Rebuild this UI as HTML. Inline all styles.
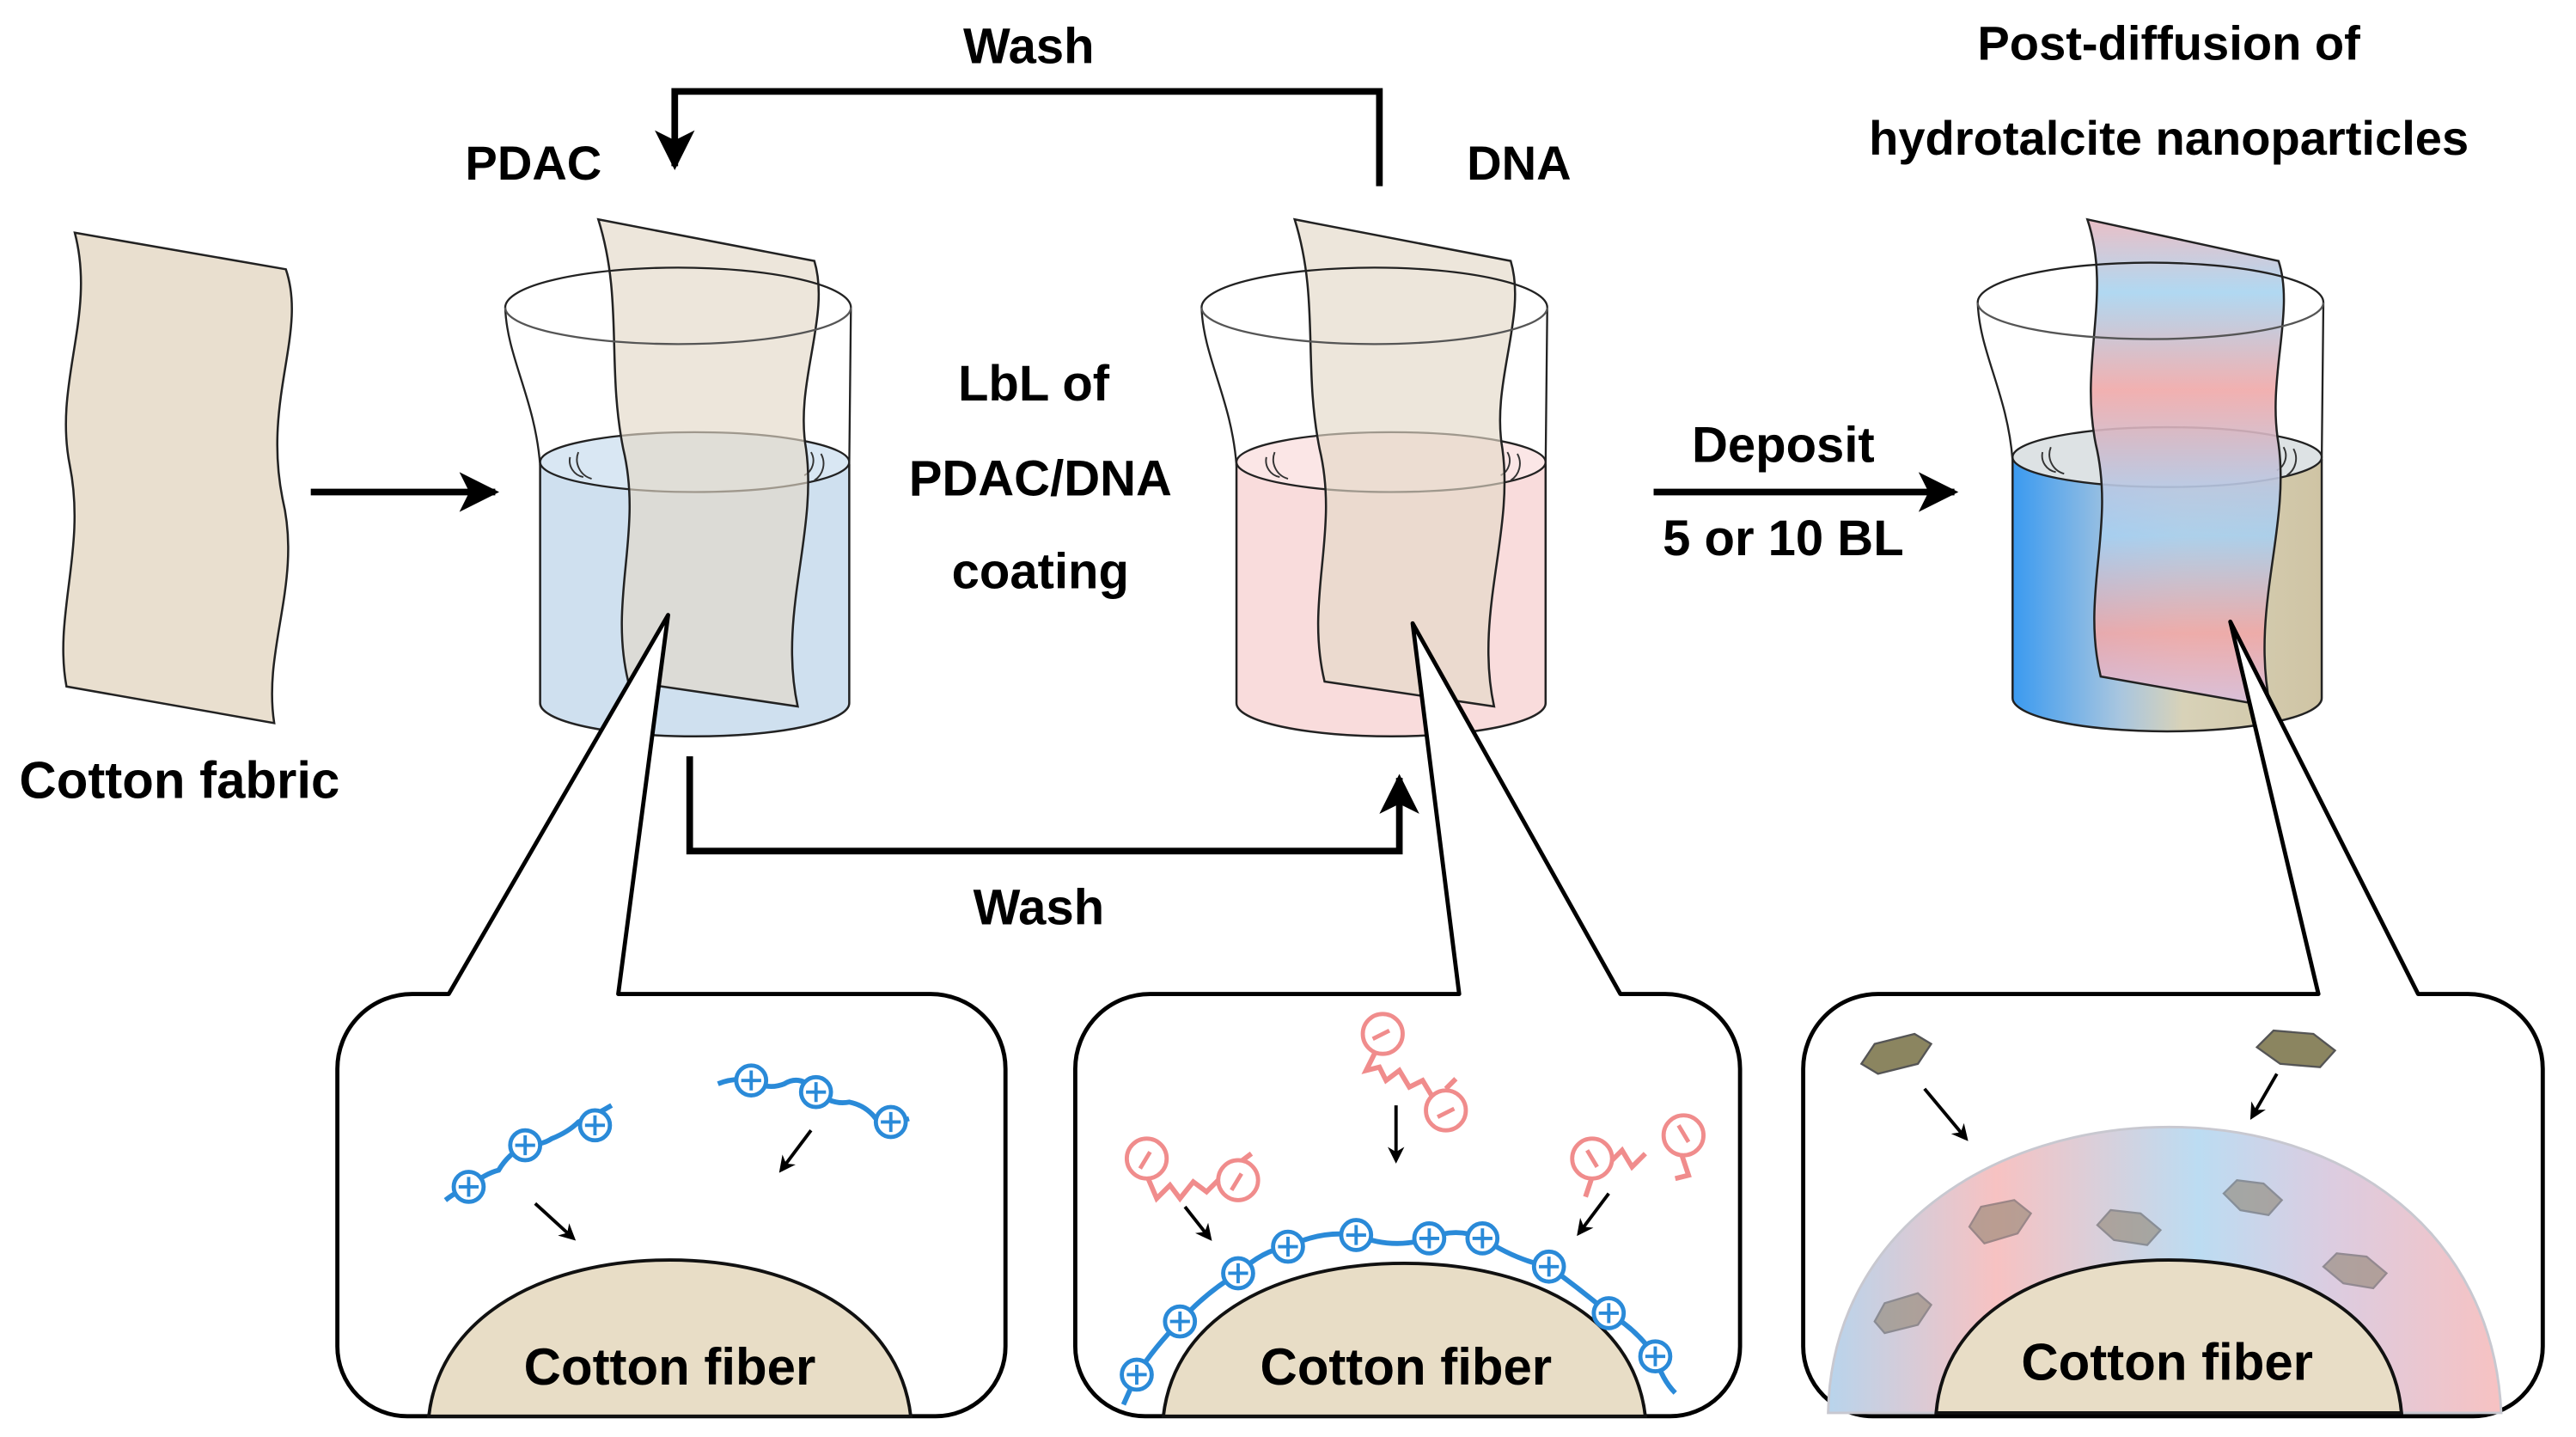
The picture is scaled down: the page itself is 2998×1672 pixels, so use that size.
<!DOCTYPE html>
<html><head><meta charset="utf-8"><style>
html,body{margin:0;padding:0;background:#fff;}
svg{display:block;}
text{font-family:"Liberation Sans",Arial,sans-serif;font-weight:bold;fill:#000;}
</style></head><body>
<svg width="2998" height="1672" viewBox="0 0 1550 864.5" preserveAspectRatio="none" xmlns="http://www.w3.org/2000/svg">
<defs>
<marker id="ah" markerWidth="10" markerHeight="10" refX="8" refY="5" orient="auto" markerUnits="userSpaceOnUse" viewBox="0 0 10 10">
<path d="M0,0 L10,5 L0,10 L3,5 Z" fill="#000"/></marker>
<marker id="big" viewBox="0 0 10 10" refX="9" refY="5" markerWidth="24" markerHeight="24" orient="auto" markerUnits="userSpaceOnUse">
<path d="M0,0 L10,5 L0,10 L2.5,5 Z" fill="#000"/></marker>
<linearGradient id="liq3" x1="0" x2="1" y1="0" y2="0">
<stop offset="0" stop-color="#3a9af0"/><stop offset="0.35" stop-color="#a9c6df"/><stop offset="0.55" stop-color="#d8d2b8"/><stop offset="1" stop-color="#cfc4a4"/></linearGradient>
<linearGradient id="fab3" x1="0" x2="0" y1="0" y2="1">
<stop offset="0" stop-color="#e8b8c0"/><stop offset="0.15" stop-color="#a8d4f0"/><stop offset="0.35" stop-color="#f0a8a8"/><stop offset="0.55" stop-color="#b8c8e4"/><stop offset="0.65" stop-color="#a8d0f0"/><stop offset="0.85" stop-color="#f0a8a8"/><stop offset="1" stop-color="#d8c0e0"/></linearGradient>
<linearGradient id="ring" x1="0" x2="1" y1="0" y2="0">
<stop offset="0" stop-color="#b8d4ec"/><stop offset="0.25" stop-color="#f7c2c2"/><stop offset="0.55" stop-color="#bcdcf2"/><stop offset="0.75" stop-color="#dccce0"/><stop offset="1" stop-color="#f7c2c2"/></linearGradient>
</defs>

<!-- top texts -->
<text x="619" y="38" font-size="30" text-anchor="middle">Wash</text>
<text x="321" y="108" font-size="29" text-anchor="middle">PDAC</text>
<text x="914" y="108" font-size="29" text-anchor="middle">DNA</text>
<text x="1305" y="36" font-size="29" text-anchor="middle">Post-diffusion of</text>
<text x="1305" y="93" font-size="29" text-anchor="middle">hydrotalcite nanoparticles</text>
<text x="108" y="480" font-size="31" text-anchor="middle">Cotton fabric</text>
<text x="622" y="241" font-size="30" text-anchor="middle">LbL of</text>
<text x="626" y="298" font-size="30" text-anchor="middle">PDAC/DNA</text>
<text x="626" y="354" font-size="30" text-anchor="middle">coating</text>
<text x="1073" y="278" font-size="30" text-anchor="middle">Deposit</text>
<text x="1073" y="334" font-size="30" text-anchor="middle">5 or 10 BL</text>
<text x="625" y="556" font-size="30" text-anchor="middle">Wash</text>

<!-- connectors -->
<polyline points="830,112 830,55 406,55 406,100" fill="none" stroke="#000" stroke-width="4" marker-end="url(#big)"/>
<polyline points="415,455 415,512 842,512 842,468" fill="none" stroke="#000" stroke-width="4" marker-end="url(#big)"/>
<line x1="187" y1="296" x2="298" y2="296" stroke="#000" stroke-width="4" marker-end="url(#big)"/>
<line x1="995" y1="296" x2="1176" y2="296" stroke="#000" stroke-width="4" marker-end="url(#big)"/>

<!-- left cotton fabric -->
<path d="M45,140 L172,162 C185,200 158,240 170,300 C182,350 158,390 165,435 L40,413 C32,370 52,330 42,280 C32,230 58,190 45,140 Z" fill="#e9dfcf" stroke="#222" stroke-width="1.3"/>

<!-- beakers -->
<g id="b1">
<path d="M325,280 L325,423 A93,20 0 0 0 511,423 L511,280 Z" fill="#cfe0ef" stroke="#222" stroke-width="1.3"/>
<ellipse cx="418" cy="278" rx="93" ry="18" fill="#d9e7f3" stroke="#222" stroke-width="1.2"/>
<path d="M343,275 a10,10 0 0 0 8,12 M348,272 a12,12 0 0 0 8,16 M488,272 a10,10 0 0 1 -4,14 M494,273 a12,12 0 0 1 -4,16" fill="none" stroke="#333" stroke-width="1"/>
<path d="M360,132 L490,157 C500,190 478,230 485,270 C492,320 468,370 480,425 L378,410 C366,360 387,320 375,270 C365,220 375,180 360,132 Z" fill="#e3d9c8" fill-opacity="0.65" stroke="#222" stroke-width="1.3"/>
<path d="M325,280 C322,240 305,215 304,185 A104,24 0 1 1 512,185 L511,280" fill="none" stroke="#222" stroke-width="1.2"/>
<path d="M304,185 A104,22 0 0 0 512,185" fill="none" stroke="#555" stroke-width="1.2"/>
</g>
<g transform="translate(419,0)">
<path d="M325,280 L325,423 A93,20 0 0 0 511,423 L511,280 Z" fill="#f9dcdc" stroke="#222" stroke-width="1.3"/>
<ellipse cx="418" cy="278" rx="93" ry="18" fill="#fbe6e6" stroke="#222" stroke-width="1.2"/>
<path d="M343,275 a10,10 0 0 0 8,12 M348,272 a12,12 0 0 0 8,16 M488,272 a10,10 0 0 1 -4,14 M494,273 a12,12 0 0 1 -4,16" fill="none" stroke="#333" stroke-width="1"/>
<path d="M360,132 L490,157 C500,190 478,230 485,270 C492,320 468,370 480,425 L378,410 C366,360 387,320 375,270 C365,220 375,180 360,132 Z" fill="#e3d9c8" fill-opacity="0.65" stroke="#222" stroke-width="1.3"/>
<path d="M325,280 C322,240 305,215 304,185 A104,24 0 1 1 512,185 L511,280" fill="none" stroke="#222" stroke-width="1.2"/>
<path d="M304,185 A104,22 0 0 0 512,185" fill="none" stroke="#555" stroke-width="1.2"/>
</g>
<g transform="translate(886,-3)">
<path d="M325,280 L325,423 A93,20 0 0 0 511,423 L511,280 Z" fill="url(#liq3)" stroke="#222" stroke-width="1.3"/>
<ellipse cx="418" cy="278" rx="93" ry="18" fill="#dde2e4" stroke="#222" stroke-width="1.2"/>
<path d="M343,275 a10,10 0 0 0 8,12 M348,272 a12,12 0 0 0 8,16 M488,272 a10,10 0 0 1 -4,14 M494,273 a12,12 0 0 1 -4,16" fill="none" stroke="#333" stroke-width="1"/>
<path d="M370,135 L485,160 C495,190 478,230 485,270 C492,320 468,370 480,428 L378,410 C366,360 387,320 375,270 C365,220 385,180 370,135 Z" fill="url(#fab3)" fill-opacity="0.9" stroke="#222" stroke-width="1.3"/>
<path d="M325,280 C322,240 305,215 304,185 A104,24 0 1 1 512,185 L511,280" fill="none" stroke="#222" stroke-width="1.2"/>
<path d="M304,185 A104,22 0 0 0 512,185" fill="none" stroke="#555" stroke-width="1.2"/>
</g>

<!-- panels with callouts -->
<path d="M372,598 L560,598 A45,45 0 0 1 605,643 L605,810 A42,42 0 0 1 563,852 L245,852 A42,42 0 0 1 203,810 L203,643 A45,45 0 0 1 248,598 L270,598 L402,370 Z" fill="#fff" stroke="#000" stroke-width="2.5" stroke-linejoin="round"/>
<path d="M975,598 L1002,598 A45,45 0 0 1 1047,643 L1047,810 A42,42 0 0 1 1005,852 L689,852 A42,42 0 0 1 647,810 L647,643 A45,45 0 0 1 692,598 L878,598 L850,375 Z" fill="#fff" stroke="#000" stroke-width="2.5" stroke-linejoin="round"/>
<path d="M1455,598 L1485,598 A45,45 0 0 1 1530,643 L1530,810 A42,42 0 0 1 1488,852 L1127,852 A42,42 0 0 1 1085,810 L1085,643 A45,45 0 0 1 1130,598 L1395,598 L1342,374 Z" fill="#fff" stroke="#000" stroke-width="2.5" stroke-linejoin="round"/>

<!-- fibers -->
<path d="M258,852 C265,790 330,758 403,758 C476,758 541,790 548,852 Z" fill="#e8ddc6" stroke="#111" stroke-width="2"/>
<path d="M700,852 C707,790 772,760 845,760 C918,760 983,790 990,852 Z" fill="#e8ddc6" stroke="#111" stroke-width="2"/>
<path d="M1100,850 C1102,740 1200,678 1305,678 C1410,678 1500,740 1505,850 Z" fill="url(#ring)" stroke="#c8c8d0" stroke-width="1.5"/>
<path d="M1165,850 C1170,790 1230,758 1305,758 C1380,758 1440,790 1445,850 Z" fill="#e8ddc6" stroke="#111" stroke-width="2"/>
<text x="403" y="833" font-size="31" text-anchor="middle">Cotton fiber</text>
<text x="846" y="833" font-size="31" text-anchor="middle">Cotton fiber</text>
<text x="1304" y="830" font-size="31" text-anchor="middle">Cotton fiber</text>

<!-- panel1 molecules -->
<g fill="none" stroke="#2a8ad8" stroke-width="3">
<path d="M268,722 q8,-6 14,-8 q10,-8 18,-10 q6,-10 16,-15 q10,0 16,-4 q10,-4 16,-10 q10,-4 20,-10"/>
<path d="M432,652 q10,-4 20,-2 q10,6 20,2 q10,-6 19,5 q10,8 20,6 q10,2 16,10 q6,4 20,0"/>
<g stroke-width="2.5" fill="#fff">
<circle cx="282" cy="714" r="9"/><circle cx="316" cy="689" r="9"/><circle cx="358" cy="677" r="9"/>
<circle cx="452" cy="650" r="9"/><circle cx="491" cy="657" r="9"/><circle cx="536" cy="675" r="9"/>
</g>
<path d="M276,714h12M282,708v12M310,689h12M316,683v12M352,677h12M358,671v12M446,650h12M452,644v12M485,657h12M491,651v12M530,675h12M536,669v12" stroke-width="2"/>
</g>
<g stroke="#000" stroke-width="2" marker-end="url(#ah)">
<line x1="322" y1="724" x2="345" y2="745"/><line x1="488" y1="680" x2="470" y2="704"/>
<line x1="840" y1="665" x2="840" y2="698"/><line x1="713" y1="726" x2="728" y2="745"/><line x1="968" y1="718" x2="950" y2="742"/>
<line x1="1158" y1="655" x2="1183" y2="685"/><line x1="1370" y1="646" x2="1355" y2="672"/>
</g>

<!-- panel2 blue chain -->
<g fill="none" stroke="#2a8ad8" stroke-width="3">
<path d="M676,845 L684,827 Q695,810 710,795 Q725,778 745,766 Q760,752 775,750 Q795,740 816,743 Q838,752 860,745 Q876,738 892,745 Q912,758 932,762 Q950,775 968,790 Q985,800 996,816 Q1000,830 1008,838"/>
<g stroke-width="2.5" fill="#fff">
<circle cx="684" cy="827" r="9"/><circle cx="710" cy="795" r="9"/><circle cx="745" cy="766" r="9"/><circle cx="775" cy="750" r="9"/><circle cx="816" cy="743" r="9"/><circle cx="860" cy="745" r="9"/><circle cx="892" cy="745" r="9"/><circle cx="932" cy="762" r="9"/><circle cx="968" cy="790" r="9"/><circle cx="996" cy="816" r="9"/>
</g>
<path d="M678,827h12M684,821v12M704,795h12M710,789v12M739,766h12M745,760v12M769,750h12M775,744v12M810,743h12M816,737v12M854,745h12M860,739v12M886,745h12M892,739v12M926,762h12M932,756v12M962,790h12M968,784v12M990,816h12M996,810v12" stroke-width="2"/>
</g>
<!-- pink DNA -->
<g fill="none" stroke="#f08c8c" stroke-width="3">
<path d="M828,632 l-6,12 l8,-2 l4,8 l8,-6 l6,10 l8,-4 l6,10 M870,655 l6,-6"/>
<path d="M690,707 l6,14 l8,-8 l6,8 l8,-10 l8,6 l8,-8 l6,4 M745,700 l8,-6"/>
<path d="M958,708 l-4,12 M958,690 l10,10 l8,-8 l6,10 l8,-8 M1012,695 l4,12 l-8,2"/>
<g stroke-width="2.5" fill="#fff">
<circle cx="832" cy="622" r="12"/><circle cx="870" cy="668" r="12"/>
<circle cx="690" cy="697" r="12"/><circle cx="745" cy="710" r="12"/>
<circle cx="958" cy="697" r="12"/><circle cx="1013" cy="683" r="12"/>
</g>
<path d="M826,625l10,-5M865,672l10,-5M686,703l6,-10M741,716l6,-10M955,692l6,10M1010,677l6,10" stroke-width="2.5"/>
</g>

<!-- panel3 platelets -->
<g stroke="#555" stroke-width="1.2">
<polygon points="1120,640 1128,628 1152,622 1162,628 1154,640 1130,646" fill="#8b8560"/>
<polygon points="1358,630 1368,620 1392,622 1405,632 1396,642 1372,640" fill="#8b8560"/>
<g opacity="0.55" fill="#8a7f6a">
<polygon points="1185,738 1192,726 1212,722 1222,730 1214,742 1194,748"/>
<polygon points="1262,737 1270,728 1288,730 1300,740 1292,749 1272,746"/>
<polygon points="1338,718 1346,710 1362,712 1373,722 1365,731 1348,728"/>
<polygon points="1128,795 1134,784 1154,778 1162,785 1154,797 1134,802"/>
<polygon points="1398,762 1406,754 1424,756 1436,766 1428,775 1410,772"/>
</g>
</g>
</svg>
</body></html>
